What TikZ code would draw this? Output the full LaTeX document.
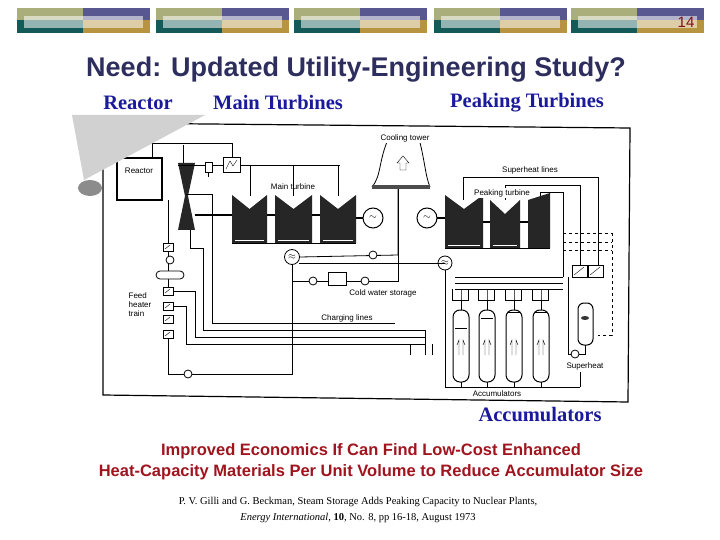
\documentclass[tikz,border=0pt]{standalone}
\usepackage{fontspec}
\setmainfont{Liberation Serif}
\setsansfont{Liberation Sans}
\usetikzlibrary{arrows.meta}
\definecolor{olive}{HTML}{A9AE7A}
\definecolor{purp}{HTML}{585790}
\definecolor{teal}{HTML}{135A58}
\definecolor{gold}{HTML}{B79440}
\definecolor{navy}{HTML}{2E2E5E}
\definecolor{lblue}{HTML}{1A1A9A}
\definecolor{dred}{HTML}{A0141E}
\tikzset{
 pipe/.style={line width=0.8pt},
 hx/.style={draw,line width=0.8pt,fill=white},
 pumpc/.style={draw,circle,line width=0.8pt,minimum size=8pt,inner sep=0pt,fill=white},
 lbl/.style={font=\sffamily\fontsize{8}{9}\selectfont,inner sep=1pt},
 head/.style={font=\rmfamily\bfseries\fontsize{20.5}{22}\selectfont,text=lblue},
}
\newcommand{\bartile}[1]{%
 \fill[olive] (#1,8) rectangle ++(66,12);
 \fill[purp] (#1+66,8) rectangle ++(67,12);
 \fill[teal] (#1,20) rectangle ++(66,13);
 \fill[gold] (#1+66,20) rectangle ++(67,13);
 \fill[white,opacity=0.55] (#1+7,16) rectangle ++(119,12);}
\newcommand{\turb}[4]{% x1 y1 x2 y2
 \fill[black!85] (#1,#2) -- ({(#1+#3)/2},#2+14) -- (#3,#2) -- (#3,#4) -- (#1,#4) -- cycle;
 \draw[white,line width=0.4pt] (#1+3,#4-3) -- (#3-3,#4-3);}
\begin{document}
\begin{tikzpicture}[x=1pt,y=-1pt]
\useasboundingbox (0,0) rectangle (720,540);
\fill[white] (0,0) rectangle (720,540);
\foreach \x in {17,156,294,434,571} {\bartile{\x}}
\node[font=\sffamily\fontsize{15}{16}\selectfont,text=dred!80!black] (pg) at (686,22) {14};
\node[font=\sffamily\bfseries\fontsize{27}{30}\selectfont,text=navy] (title) at (356,70) {Need: Updated Utility-Engineering Study?};
\node[head] (hr) at (138,103) {Reactor};
\node[head] (hm) at (278,103) {Main Turbines};
\node[head] (hp) at (527,103) {Peaking Turbines};
\node[head] (ha) at (540,415) {Accumulators};
% frame
\draw[line width=1.2pt] (103,123) -- (630,128) -- (628,402) -- (103,395) -- cycle;
% reactor
\draw[line width=1.2pt] (117,158) rectangle (162,200);
\node[lbl] (reac) at (139,171) {Reactor};
% HP turbine vertical
\fill[black!85] (178,163) -- (195,163) -- (188,196) -- (195,230) -- (178,230) -- (185,196) -- cycle;
\draw[pipe] (152,158) -- (152,143) -- (232,143) -- (232,157);
\draw[pipe] (168,200) -- (168,243);
\draw[pipe] (183,163) -- (183,145);
\draw[pipe] (178,165) -- (340,165);
\draw[hx] (223,157) rectangle (240,172);
\draw (226,169) -- (230,161) -- (233,166) -- (237,160);
\draw[hx] (205,162) rectangle (212,172);
\draw[pipe] (208,172) -- (208,177);
\foreach \x in {250,293,338} \draw[pipe] (\x,165) -- (\x,196);
\turb{232}{195}{267}{243}
\turb{275}{195}{312}{243}
\turb{320}{195}{356}{243}
\draw[line width=2pt] (195,215) -- (232,215) (267,215) -- (275,215) (312,215) -- (320,215) (356,218) -- (363,218);
\draw[pipe] (232,243) -- (356,243);
\draw[pipe] (186,194) -- (212,194) -- (212,323) -- (395,323);
\node[lbl] (mt) at (293,187) {Main turbine};
\node[draw,circle,line width=1pt,minimum size=20pt,inner sep=0pt] (gen1) at (373,218) {$\sim$};
% condenser & feed
\node[draw,circle,line width=0.8pt,minimum size=15pt,inner sep=0pt] (cond1) at (292,257) {$\approx$};
\draw[pipe] (cond1.east) -- (398,255) -- (398,187);
\node[pumpc] (p1) at (373,255) {};
\draw[pipe] (299,263) -- (445,263);
\draw[pipe] (cond1.south) -- (292,374) -- (168,374) -- (168,338);
\node[pumpc] (p2) at (188,374) {};
\draw[pipe] (292,281) -- (398,281) -- (398,235);
\node[pumpc] (p3) at (313,281) {};
\node[pumpc] (p4) at (365,281) {};
\draw[hx] (328,272) rectangle (346,285);
\node[lbl] (cws) at (383,293) {Cold water storage};
\node[lbl] (chg) at (347,318) {Charging lines};
\foreach \y in {243,287,302,315,330} {\draw[hx] (163,\y) rectangle ++(10,8); \draw (165,\y+6) -- (170,\y+2);}
\draw[pipe] (168,251) -- (168,287);
\node[pumpc] (p5) at (170,260) {};
\draw[hx,rounded corners=4pt] (156,271) rectangle (184,279);
\node[lbl,align=left] (fht) at (140,305) {Feed\\heater\\train};
\draw[pipe] (190,248) -- (203,248) -- (203,330) -- (425,330);
\draw[pipe] (173,291) -- (195,291) -- (195,337) -- (425,337);
\draw[pipe] (173,306) -- (186,306) -- (186,344) -- (425,344);
\draw[pipe] (190,230) -- (190,248);
% cooling tower
\draw[pipe] (390,135) .. controls (378,160) and (382,175) .. (372,187);
\draw[pipe] (418,135) .. controls (425,160) and (425,175) .. (430,187);
\fill[black!70] (372,185) rectangle (430,189);
\draw (400,170) -- (400,163) -- (397,163) -- (403,156) -- (409,163) -- (406,163) -- (406,170) -- cycle;
\node[lbl,fill=white] (ct) at (405,138) {Cooling tower};
\draw[pipe] (398,189) -- (398,263);
% peaking turbines
\node[draw,circle,line width=1pt,minimum size=20pt,inner sep=0pt] (gen2) at (427,218) {$\sim$};
\draw[line width=2pt] (437,218) -- (445,218) (483,222) -- (490,222) (520,222) -- (528,222);
\turb{445}{195}{483}{248}
\turb{490}{200}{520}{248}
\fill[black!85] (528,200) -- (550,193) -- (550,248) -- (528,248) -- cycle;
\draw[pipe] (463,200) -- (463,177) -- (598,177) -- (598,265);
\draw[pipe] (505,200) -- (505,185) -- (580,185) -- (580,265);
\draw[pipe] (540,196) -- (540,192) -- (563,192) -- (563,277);
\node[lbl,fill=white] (pt) at (502,193) {Peaking turbine};
\node[lbl,fill=white] (sl) at (530,170) {Superheat lines};
\draw[pipe] (445,248) -- (550,248);
\draw[dashed] (563,233) -- (612,233) (563,242) -- (612,242) (563,250) -- (612,250) (612,233) -- (612,335) -- (598,335);
\node[draw,circle,line width=0.8pt,minimum size=14pt,inner sep=0pt] (cond2) at (445,263) {$\approx$};
\draw[pipe] (cond2.south) -- (445,387) -- (580,387);
\draw[hx] (572,265) rectangle (587,277);
\draw[hx] (588,265) rectangle (603,277);
\draw (574,275) -- (584,267) (590,275) -- (600,267);
% accumulators
\foreach \y in {277,283,289} \draw[pipe] (455,\y) -- (563,\y);
\foreach \x/\t in {453/328,479/318,506/312,533/312} {
 \draw[line width=1pt,fill=white,rounded corners=7pt] (\x,310) rectangle ++(16,72);
 \draw (\x+2,\t) -- (\x+14,\t);
 \draw (\x+8,382) -- (\x+8,387);
 \draw (\x+4,345) -- (\x+6,340) -- (\x+6,355) (\x+12,345) -- (\x+10,340) -- (\x+10,355);
 \foreach \d in {-1,8,15} \draw[pipe] (\x+\d,289) -- (\x+\d,300) -- (\x+8,300) -- (\x+8,310);
}
\node[lbl] (acc) at (497,394) {Accumulators};
\draw[line width=1pt,fill=white,rounded corners=6pt] (578,303) rectangle (593,345);
\fill[black!80] (585,318) ellipse (4 and 2);
\node[pumpc] (p6) at (575,354) {};
\node[lbl] (sh) at (585,366) {Superheat};
\draw[pipe] (568,277) -- (568,354) -- (p6);
\draw[pipe] (p6) -- (585,354) -- (585,345);
\draw[pipe] (580,387) -- (580,372);
\draw[pipe] (425,330) -- (425,355) (432,344) -- (432,355) (410,344) -- (410,355);
% paper curl
\fill[black!18] (72,115) -- (205,115) -- (84,180) -- cycle;
\fill[black!45] (90,188) ellipse (12 and 8);
% bottom texts
\node[font=\sffamily\bfseries\fontsize{16.5}{21}\selectfont,text=dred,align=center] (eco) at (371,462) {Improved Economics If Can Find Low-Cost Enhanced\\Heat-Capacity Materials Per Unit Volume to Reduce Accumulator Size};
\node[font=\rmfamily\fontsize{10.5}{16}\selectfont,align=center] (cite) at (358,510) {P. V. Gilli and G. Beckman, Steam Storage Adds Peaking Capacity to Nuclear Plants,\\\textit{Energy International}, \textbf{10}, No. 8, pp 16-18, August 1973};
\end{tikzpicture}
\end{document}
